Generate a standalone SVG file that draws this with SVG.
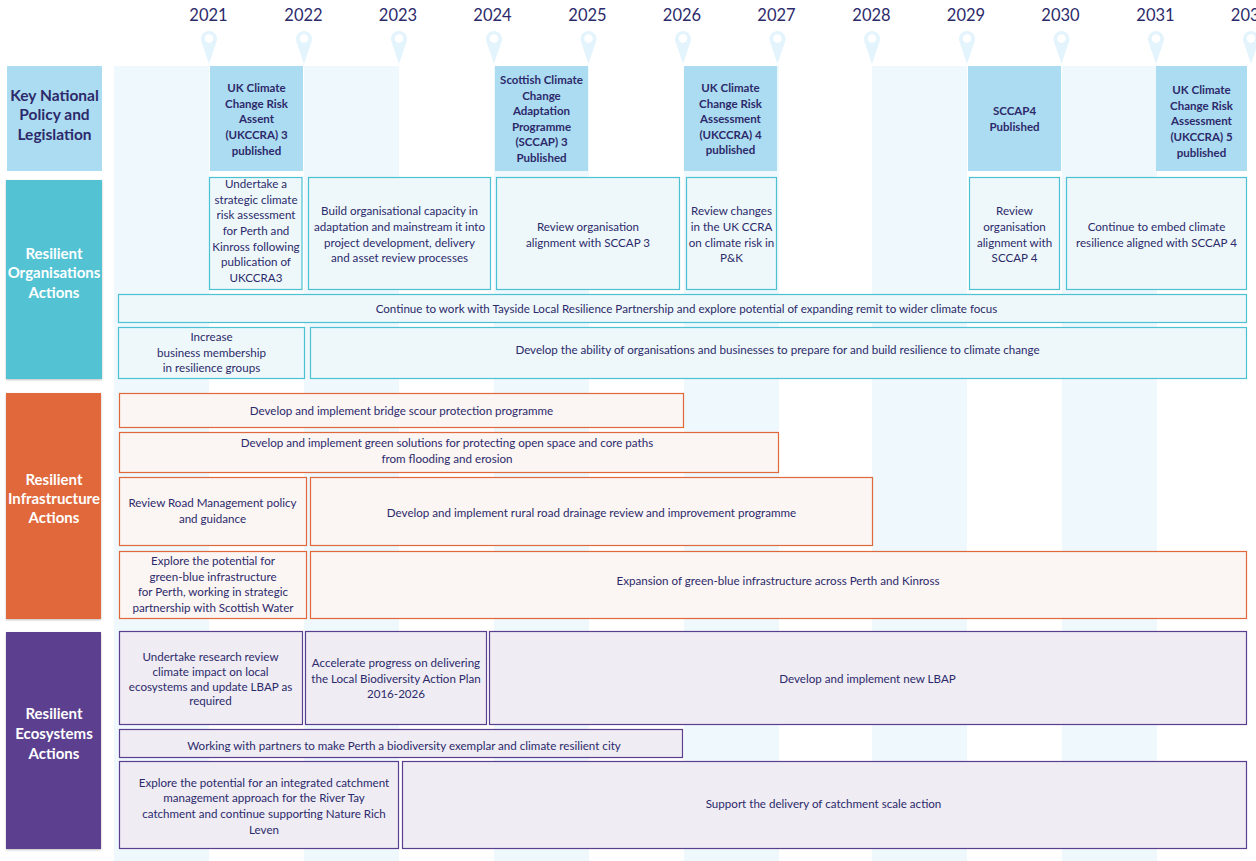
<svg xmlns="http://www.w3.org/2000/svg" xmlns:xlink="http://www.w3.org/1999/xlink" width="1256" height="861" viewBox="0 0 1256 861">
<style>
text{font-family:Lato,"Open Sans","Liberation Sans",sans-serif;fill:#2c2a6b;text-anchor:middle}
.yr{font-size:16.5px}
.pol{font-size:11.5px;font-weight:bold}
.t{font-size:11.6px}
.lab{font-size:15px;font-weight:bold;fill:#fff}
.key{font-size:15.5px;font-weight:bold}
.stripe{fill:#eef8fd}
.polbox{fill:#acdcf1}
.org{fill:#eef8fa;stroke:#4dc1d2;stroke-width:1.2}
.inf{fill:#fbf5f3;stroke:#e0683a;stroke-width:1.2}
.eco{fill:#efecf3;stroke:#5b3f8f;stroke-width:1.2}
</style>
<defs>
<g id="pin"><path d="M0,64 L-7.6,41.5 A8,8 0 1 1 7.6,41.5 Z" fill="#e4f4fd"/><circle cx="0" cy="38.5" r="4.3" fill="#fff"/></g>
<filter id="sh" x="-10%" y="-10%" width="120%" height="120%"><feDropShadow dx="0" dy="1" stdDeviation="1" flood-color="#000" flood-opacity="0.25"/></filter>
</defs>
<rect width="1256" height="861" fill="#fff"/>
<g id="stripes">
<rect class="stripe" x="114" y="66" width="95" height="795"/>
<rect class="stripe" x="304" y="66" width="95" height="795"/>
<rect class="stripe" x="494" y="66" width="95" height="795"/>
<rect class="stripe" x="684" y="66" width="95" height="795"/>
<rect class="stripe" x="872" y="66" width="95" height="795"/>
<rect class="stripe" x="1062" y="66" width="95" height="795"/>
</g>
<g id="timeline">
<use xlink:href="#pin" href="#pin" x="209"/><text class="yr" x="208.5" y="21">2021</text>
<use xlink:href="#pin" href="#pin" x="304"/><text class="yr" x="303.5" y="21">2022</text>
<use xlink:href="#pin" href="#pin" x="399"/><text class="yr" x="398" y="21">2023</text>
<use xlink:href="#pin" href="#pin" x="494"/><text class="yr" x="492.5" y="21">2024</text>
<use xlink:href="#pin" href="#pin" x="588.5"/><text class="yr" x="587.5" y="21">2025</text>
<use xlink:href="#pin" href="#pin" x="683"/><text class="yr" x="682" y="21">2026</text>
<use xlink:href="#pin" href="#pin" x="777.5"/><text class="yr" x="776.5" y="21">2027</text>
<use xlink:href="#pin" href="#pin" x="872"/><text class="yr" x="871.5" y="21">2028</text>
<use xlink:href="#pin" href="#pin" x="967"/><text class="yr" x="966" y="21">2029</text>
<use xlink:href="#pin" href="#pin" x="1061.5"/><text class="yr" x="1060.5" y="21">2030</text>
<use xlink:href="#pin" href="#pin" x="1156"/><text class="yr" x="1155.5" y="21">2031</text>
<use xlink:href="#pin" href="#pin" x="1251"/><text class="yr" x="1250" y="21">2032</text>
</g>
<g id="key-label"><rect class="polbox" x="7" y="66" width="95" height="105"/>
<text class="key"><tspan x="54.5" y="101">Key National</tspan><tspan x="54.5" y="120">Policy and</tspan><tspan x="54.5" y="140">Legislation</tspan></text></g>
<g id="policy-ukccra3"><rect class="polbox" x="210" y="66" width="93" height="105"/>
<text class="pol"><tspan x="256.5" y="92">UK Climate</tspan><tspan x="256.5" y="108">Change Risk</tspan><tspan x="256.5" y="123">Assent</tspan><tspan x="256.5" y="139">(UKCCRA) 3</tspan><tspan x="256.5" y="155">published</tspan></text></g>
<g id="policy-sccap3"><rect class="polbox" x="495" y="66" width="93" height="105"/>
<text class="pol"><tspan x="541.5" y="84">Scottish Climate</tspan><tspan x="541.5" y="100">Change</tspan><tspan x="541.5" y="115">Adaptation</tspan><tspan x="541.5" y="131">Programme</tspan><tspan x="541.5" y="146">(SCCAP) 3</tspan><tspan x="541.5" y="162">Published</tspan></text></g>
<g id="policy-ukccra4"><rect class="polbox" x="684" y="66" width="93" height="105"/>
<text class="pol"><tspan x="730.5" y="92">UK Climate</tspan><tspan x="730.5" y="108">Change Risk</tspan><tspan x="730.5" y="123">Assessment</tspan><tspan x="730.5" y="139">(UKCCRA) 4</tspan><tspan x="730.5" y="154">published</tspan></text></g>
<g id="policy-sccap4"><rect class="polbox" x="968" y="66" width="93" height="105"/>
<text class="pol"><tspan x="1014.5" y="115">SCCAP4</tspan><tspan x="1014.5" y="131">Published</tspan></text></g>
<g id="policy-ukccra5"><rect class="polbox" x="1156" y="66" width="91" height="105"/>
<text class="pol"><tspan x="1201.5" y="94">UK Climate</tspan><tspan x="1201.5" y="110">Change Risk</tspan><tspan x="1201.5" y="125">Assessment</tspan><tspan x="1201.5" y="141">(UKCCRA) 5</tspan><tspan x="1201.5" y="157">published</tspan></text></g>

<g id="org-label"><rect x="6" y="180" width="96" height="199" fill="#52c3d4" filter="url(#sh)"/>
<text class="lab"><tspan x="54" y="259">Resilient</tspan><tspan x="54" y="278">Organisations</tspan><tspan x="54" y="298">Actions</tspan></text></g>
<g id="org-1"><rect class="org" x="209.5" y="177.5" width="92.5" height="112"/>
<text class="t"><tspan x="256" y="188">Undertake a</tspan><tspan x="256" y="203.5">strategic climate</tspan><tspan x="256" y="219">risk assessment</tspan><tspan x="256" y="235">for Perth and</tspan><tspan x="256" y="250.5">Kinross following</tspan><tspan x="256" y="266">publication of</tspan><tspan x="256" y="282">UKCCRA3</tspan></text></g>
<g id="org-2"><rect class="org" x="308.5" y="177.5" width="182" height="112"/>
<text class="t"><tspan x="399.5" y="215">Build organisational capacity in</tspan><tspan x="399.5" y="230.5">adaptation and mainstream it into</tspan><tspan x="399.5" y="246.5">project development, delivery</tspan><tspan x="399.5" y="262">and asset review processes</tspan></text></g>
<g id="org-3"><rect class="org" x="496.5" y="177.5" width="183" height="112"/>
<text class="t"><tspan x="588" y="230.5">Review organisation</tspan><tspan x="588" y="246.5">alignment with SCCAP 3</tspan></text></g>
<g id="org-4"><rect class="org" x="686.5" y="177.5" width="90" height="112"/>
<text class="t"><tspan x="731.5" y="215">Review changes</tspan><tspan x="731.5" y="230.5">in the UK CCRA</tspan><tspan x="731.5" y="246.5">on climate risk in</tspan><tspan x="731.5" y="262">P&amp;K</tspan></text></g>
<g id="org-5"><rect class="org" x="969.5" y="177.5" width="90" height="112"/>
<text class="t"><tspan x="1014.5" y="215">Review</tspan><tspan x="1014.5" y="230.5">organisation</tspan><tspan x="1014.5" y="246.5">alignment with</tspan><tspan x="1014.5" y="262">SCCAP 4</tspan></text></g>
<g id="org-6"><rect class="org" x="1066.5" y="177.5" width="180" height="112"/>
<text class="t"><tspan x="1156.5" y="230.5">Continue to embed climate</tspan><tspan x="1156.5" y="246.5">resilience aligned with SCCAP 4</tspan></text></g>
<g id="org-7"><rect class="org" x="118.5" y="294.5" width="1128" height="28"/>
<text class="t" x="686.5" y="313">Continue to work with Tayside Local Resilience Partnership and explore potential of expanding remit to wider climate focus</text></g>
<g id="org-8"><rect class="org" x="118.5" y="327.5" width="186" height="51"/>
<text class="t"><tspan x="211.5" y="341">Increase</tspan><tspan x="211.5" y="357">business membership</tspan><tspan x="211.5" y="372">in resilience groups</tspan></text></g>
<g id="org-9"><rect class="org" x="310.5" y="327.5" width="936" height="51"/>
<text class="t" x="777.5" y="354">Develop the ability of organisations and businesses to prepare for and build resilience to climate change</text></g>

<g id="inf-label"><rect x="6" y="393" width="95" height="226" fill="#e0683a" filter="url(#sh)"/>
<text class="lab"><tspan x="54" y="485">Resilient</tspan><tspan x="54" y="504">Infrastructure</tspan><tspan x="54" y="523">Actions</tspan></text></g>
<g id="inf-1"><rect class="inf" x="119.5" y="393.5" width="564" height="34"/>
<text class="t" x="401.5" y="415">Develop and implement bridge scour protection programme</text></g>
<g id="inf-2"><rect class="inf" x="119.5" y="432.5" width="659" height="40"/>
<text class="t"><tspan x="447" y="447">Develop and implement green solutions for protecting open space and core paths</tspan><tspan x="447" y="463">from flooding and erosion</tspan></text></g>
<g id="inf-3"><rect class="inf" x="119.5" y="477.5" width="187" height="68"/>
<text class="t"><tspan x="212.5" y="507">Review Road Management policy</tspan><tspan x="212.5" y="523">and guidance</tspan></text></g>
<g id="inf-4"><rect class="inf" x="310.5" y="477.5" width="562" height="68"/>
<text class="t" x="591.5" y="517">Develop and implement rural road drainage review and improvement programme</text></g>
<g id="inf-5"><rect class="inf" x="119.5" y="551.5" width="187" height="67"/>
<text class="t"><tspan x="213" y="565">Explore the potential for</tspan><tspan x="213" y="581">green-blue infrastructure</tspan><tspan x="213" y="596">for Perth, working in strategic</tspan><tspan x="213" y="612">partnership with Scottish Water</tspan></text></g>
<g id="inf-6"><rect class="inf" x="310.5" y="551.5" width="936" height="67"/>
<text class="t" x="778" y="585">Expansion of green-blue infrastructure across Perth and Kinross</text></g>

<g id="eco-label"><rect x="6" y="632" width="95" height="217" fill="#5b3f8f" filter="url(#sh)"/>
<text class="lab"><tspan x="54" y="719">Resilient</tspan><tspan x="54" y="739">Ecosystems</tspan><tspan x="54" y="759">Actions</tspan></text></g>
<g id="eco-1"><rect class="eco" x="119.5" y="631.5" width="183" height="93"/>
<text class="t"><tspan x="210.5" y="661">Undertake research review</tspan><tspan x="210.5" y="676">climate impact on local</tspan><tspan x="210.5" y="690.5">ecosystems and update LBAP as</tspan><tspan x="210.5" y="704.5">required</tspan></text></g>
<g id="eco-2"><rect class="eco" x="305.5" y="631.5" width="181" height="93"/>
<text class="t"><tspan x="396" y="667">Accelerate progress on delivering</tspan><tspan x="396" y="683">the Local Biodiversity Action Plan</tspan><tspan x="396" y="698">2016-2026</tspan></text></g>
<g id="eco-3"><rect class="eco" x="489.5" y="631.5" width="757" height="93"/>
<text class="t" x="867.5" y="683">Develop and implement new LBAP</text></g>
<g id="eco-4"><rect class="eco" x="119.5" y="729.5" width="563" height="28"/>
<text class="t" x="404" y="750">Working with partners to make Perth a biodiversity exemplar and climate resilient city</text></g>
<g id="eco-5"><rect class="eco" x="119.5" y="761.5" width="279" height="87"/>
<text class="t"><tspan x="264" y="787">Explore the potential for an integrated catchment</tspan><tspan x="264" y="802">management approach for the River Tay</tspan><tspan x="264" y="818">catchment and continue supporting Nature Rich</tspan><tspan x="264" y="834">Leven</tspan></text></g>
<g id="eco-6"><rect class="eco" x="402.5" y="761.5" width="844" height="87"/>
<text class="t" x="823.5" y="808">Support the delivery of catchment scale action</text></g>
<g id="connectors"/>
</svg>
